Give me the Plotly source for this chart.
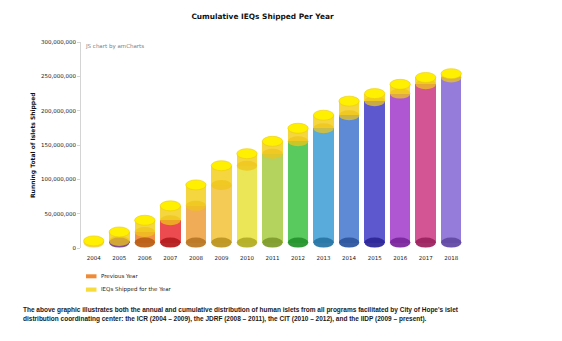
import plotly.graph_objects as go

# ---------------- data ----------------
years = ["2004", "2005", "2006", "2007", "2008", "2009", "2010", "2011",
         "2012", "2013", "2014", "2015", "2016", "2017", "2018"]
previous_year = [0, 2.5e6, 15.5e6, 32.5e6, 53.5e6, 84.0e6, 112.0e6, 129.5e6,
                 147.5e6, 166.5e6, 185.5e6, 206.0e6, 217.0e6, 230.5e6, 240.5e6]
shipped_for_year = [2.5e6, 13.0e6, 17.0e6, 21.0e6, 30.5e6, 28.0e6, 17.5e6, 18.0e6,
                    19.0e6, 19.0e6, 20.5e6, 11.0e6, 13.5e6, 10.0e6, 5.5e6]
y_ticks = [0, 50e6, 100e6, 150e6, 200e6, 250e6, 300e6]

# ---------------- styles ----------------
prev_colors = ["#F5D21E", "#9B59B6", "#F07A1E", "#E8252A", "#EE9A32", "#F2C02E",
               "#E6E032", "#A4C93A", "#33BE3A", "#3598D4", "#3A6FCB", "#3A33C4",
               "#9E32C8", "#C92F7C", "#7E5FD2"]
YELLOW = "#F3CF1F"
TOP = "#FFEF00"

W, H = 562, 341
L, R, T, B = 81, 98, 42, 93
PW, PH = W - L - R, H - T - B


def px2x(px):
    return (px - L) / PW


def py2y(py):
    return (H - B - py) / PH


def rgba(hexc, a):
    h = hexc.lstrip("#")
    r, g, b = int(h[0:2], 16), int(h[2:4], 16), int(h[4:6], 16)
    return f"rgba({r},{g},{b},{a})"


def darker(hexc, f=0.78, a=0.95):
    h = hexc.lstrip("#")
    r, g, b = (int(int(h[i:i + 2], 16) * f) for i in (0, 2, 4))
    return f"rgba({r},{g},{b},{a})"


# 3D offset of the columns (px) and ellipse half-height (px)
DEPTH_PX = 5.4
RY_PX = 5.0
yrange = [0, 300e6]
per_px = (yrange[1] - yrange[0]) / PH
y2range = [yrange[0] - DEPTH_PX * per_px, yrange[1] - DEPTH_PX * per_px]
ry = RY_PX * per_px
BW = 0.8

fig = go.Figure()
# invisible trace so the labelled value axis is drawn
fig.add_trace(go.Scatter(x=years, y=[0] * len(years), mode="markers",
                         marker=dict(opacity=0), hoverinfo="skip",
                         showlegend=False))
fig.add_trace(go.Bar(
    x=years, y=previous_year, yaxis="y2", name="Previous Year",
    marker=dict(color=[rgba(c, 0.82) for c in prev_colors], line=dict(width=0)),
    width=BW, showlegend=False, hoverinfo="x+y"))
fig.add_trace(go.Bar(
    x=years, y=shipped_for_year, yaxis="y2", name="IEQs Shipped for the Year",
    marker=dict(color=rgba(YELLOW, 0.85), line=dict(width=0)),
    width=BW, showlegend=False, hoverinfo="x+y"))

shapes = []
for i, (p, s) in enumerate(zip(previous_year, shipped_for_year)):
    top = p + s
    if p > 0:
        shapes.append(dict(type="circle", xref="x", yref="y2",
                           x0=i - BW / 2, x1=i + BW / 2, y0=-ry, y1=ry,
                           fillcolor=darker(prev_colors[i]), line=dict(width=0),
                           layer="above"))
    shapes.append(dict(type="circle", xref="x", yref="y2",
                       x0=i - BW / 2, x1=i + BW / 2, y0=p - ry, y1=p + ry,
                       fillcolor=rgba("#EFC41A", 0.75), line=dict(width=0),
                       layer="above"))
    shapes.append(dict(type="circle", xref="x", yref="y2",
                       x0=i - BW / 2, x1=i + BW / 2, y0=top - ry, y1=top + ry,
                       fillcolor=TOP, line=dict(color="#EBCB10", width=0.6),
                       layer="above"))

# manual legend swatches
shapes.append(dict(type="rect", xref="paper", yref="paper",
                   x0=px2x(86), x1=px2x(96.5), y0=py2y(278.3), y1=py2y(274.3),
                   fillcolor="#F08A35", line=dict(width=0)))
shapes.append(dict(type="rect", xref="paper", yref="paper",
                   x0=px2x(86), x1=px2x(96.5), y0=py2y(291.7), y1=py2y(287.5),
                   fillcolor="#F6DC3C", line=dict(width=0)))

small = dict(family="DejaVu Sans, Verdana, sans-serif", size=5.5, color="#1a1a1a")
foot = dict(family="Liberation Sans, Arial, sans-serif", size=6.5, color="#1a1a1a")
annotations = [
    dict(text="JS chart by amCharts", xref="paper", yref="paper",
         x=px2x(83), y=py2y(46.5), xanchor="left", yanchor="middle",
         showarrow=False, font=dict(family="DejaVu Sans, Verdana, sans-serif",
                                    size=5.5, color="#808080")),
    dict(text="<b>Running Total of Islets Shipped</b>", xref="paper", yref="paper",
         x=px2x(33), y=py2y(145), xanchor="center", yanchor="middle",
         textangle=-90, showarrow=False,
         font=dict(family="DejaVu Sans, Verdana, sans-serif", size=6.0, color="#111111")),
    dict(text="Previous Year", xref="paper", yref="paper",
         x=px2x(98.5), y=py2y(276.3), xanchor="left", yanchor="middle",
         showarrow=False, font=small),
    dict(text="IEQs Shipped for the Year", xref="paper", yref="paper",
         x=px2x(98.5), y=py2y(289.7), xanchor="left", yanchor="middle",
         showarrow=False, font=small),
    dict(text="<b>The above graphic illustrates both the annual and cumulative distribution of human islets from all programs facilitated by City of Hope's islet</b>",
         xref="paper", yref="paper", x=px2x(20.5), y=py2y(310), xanchor="left",
         yanchor="middle", showarrow=False, font=foot),
    dict(text="<b>distribution coordinating center: the ICR (2004 – 2009), the JDRF (2008 – 2011), the CIT (2010 – 2012), and the IIDP (2009 – present).</b>",
         xref="paper", yref="paper", x=px2x(20.5), y=py2y(318.8), xanchor="left",
         yanchor="middle", showarrow=False, font=foot),
]

fig.update_layout(
    width=W, height=H,
    margin=dict(l=L, r=R, t=T, b=B, pad=0),
    paper_bgcolor="white", plot_bgcolor="white",
    barmode="stack", bargap=0.2,
    title=dict(text="<b>Cumulative IEQs Shipped Per Year</b>", xref="container",
               yref="container", x=262.5 / W, y=1 - 16 / H, xanchor="center",
               yanchor="middle",
               font=dict(family="DejaVu Sans, Verdana, sans-serif", size=7.4,
                         color="#111111")),
    xaxis=dict(type="category", range=[-0.5, len(years) - 0.5], showgrid=False,
               showline=False, zeroline=False, ticks="outside", ticklen=4,
               tickcolor="rgba(0,0,0,0)", tickfont=small, fixedrange=True),
    yaxis=dict(range=yrange, tickvals=y_ticks, tickformat=",d", showgrid=False,
               zeroline=False, showline=True, linecolor="#d4d4d4", linewidth=1,
               ticks="outside", ticklen=3, tickcolor="#d4d4d4", tickfont=small),
    yaxis2=dict(range=y2range, overlaying="y", visible=False),
    shapes=shapes, annotations=annotations, showlegend=False,
)

fig.write_html("out.html")
